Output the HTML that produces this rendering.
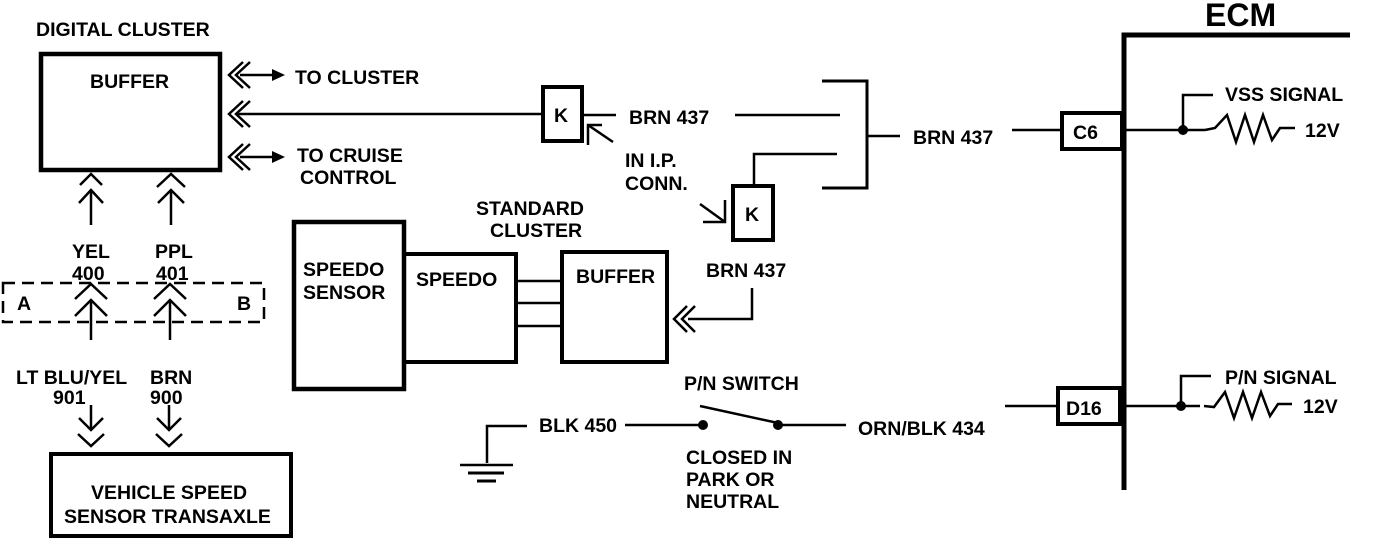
<!DOCTYPE html>
<html><head><style>
html,body{margin:0;padding:0;background:#fff;}
svg{display:block;}
text{font-family:"Liberation Sans",Arial,sans-serif;font-weight:bold;font-size:19.5px;fill:#000;}
</style></head><body>
<svg width="1376" height="544" viewBox="0 0 1376 544" xmlns="http://www.w3.org/2000/svg">
<g fill="none" stroke="#000" stroke-width="2.5">
<rect x="41" y="54" width="179" height="116" stroke-width="4.5"/>
<polyline points="243,62 229,75 243,88"/><polyline points="250,62 236,75 250,88"/>
<line x1="240" y1="75" x2="276" y2="75"/>
<polyline points="243,101 229,114 243,127"/><polyline points="250,101 236,114 250,127"/>
<line x1="238" y1="114" x2="541" y2="114"/>
<polyline points="243,144 229,157 243,170"/><polyline points="250,144 236,157 250,170"/>
<line x1="240" y1="157" x2="276" y2="157"/>
<polyline points="80,185 91,174 102,185"/>
<line x1="91" y1="190" x2="91" y2="225"/><polyline points="79,203 91,190 103,203"/>
<polyline points="157,187 171,174 185,187"/>
<line x1="171" y1="190" x2="171" y2="225"/><polyline points="158,203 171,190 184,203"/>
<rect x="3" y="283" width="261" height="39" stroke-dasharray="12,7"/>
<polyline points="75,299 91,284 107,299"/><polyline points="75,316 91,300 107,316"/>
<line x1="91" y1="300" x2="91" y2="340"/>
<polyline points="154,299 170,284 186,299"/><polyline points="154,316 170,300 186,316"/>
<line x1="170" y1="300" x2="170" y2="340"/>
<line x1="91" y1="405" x2="91" y2="430"/><polyline points="79,418 91,430 103,418"/>
<polyline points="78,434 91,446 104,434"/>
<line x1="169" y1="405" x2="169" y2="430"/><polyline points="157,418 169,430 181,418"/>
<polyline points="156,434 169,446 182,434"/>
<rect x="51" y="454" width="240" height="82" stroke-width="4"/>
<rect x="294" y="222" width="110" height="167" stroke-width="4.5"/>
<rect x="404" y="254" width="112" height="108" stroke-width="4"/>
<rect x="562" y="252" width="105" height="110" stroke-width="4"/>
<line x1="516" y1="281" x2="562" y2="281"/><line x1="516" y1="303" x2="562" y2="303"/><line x1="516" y1="326" x2="562" y2="326"/>
<polyline points="752,288 752,319 688,319"/>
<polyline points="687,306 674,319 687,332"/><polyline points="695,306 682,319 695,332"/>
<rect x="543" y="87" width="39" height="54" stroke-width="4"/>
<line x1="582" y1="115" x2="616" y2="115"/>
<polyline points="602,125 588,125 588,145"/>
<line x1="588" y1="125" x2="613" y2="142"/>
<line x1="735" y1="115" x2="840" y2="115"/>
<polyline points="822,81 867,81 867,188 822,188" stroke-width="3"/>
<line x1="867" y1="136" x2="900" y2="136"/>
<polyline points="754,185 754,154 837,154"/>
<rect x="733" y="186" width="40" height="54" stroke-width="4"/>
<line x1="700" y1="204" x2="725" y2="222"/><polyline points="703,222 725,222 725,200"/>
<polyline points="1124,490 1124,35 1350,35" stroke-width="5"/>
<line x1="1012" y1="130" x2="1062" y2="130"/>
<rect x="1062" y="113" width="60" height="36" stroke-width="4"/>
<line x1="1124" y1="130" x2="1205" y2="130"/>
<polyline points="1183,130 1183,95 1213,95"/>
<polyline points="1205,130 1215,128 1227,115 1236,142 1245,115 1254,142 1263,115 1272,140 1280,128 1295,128"/>
<line x1="1005" y1="406" x2="1058" y2="406"/>
<rect x="1058" y="388" width="62" height="36" stroke-width="4"/>
<line x1="1124" y1="406" x2="1200" y2="406"/>
<polyline points="1181,406 1181,376 1211,376"/>
<polyline points="1204,406 1214,407 1225,392 1234,418 1243,392 1252,418 1261,392 1270,416 1278,404 1292,404"/>
<polyline points="487,463 487,426 527,426"/>
<line x1="625" y1="425" x2="700" y2="425"/>
<line x1="700" y1="406" x2="778" y2="423"/>
<line x1="778" y1="425" x2="846" y2="425"/>
<line x1="460" y1="465" x2="513" y2="465"/>
<line x1="468" y1="473" x2="504" y2="473" stroke-width="3"/>
<line x1="477" y1="481" x2="496" y2="481" stroke-width="3"/>
</g>
<circle cx="1183" cy="130" r="5"/><circle cx="1181" cy="406" r="5"/>
<circle cx="703" cy="425" r="5"/><circle cx="778" cy="425" r="5"/>
<polygon points="272,69 285,75 272,81"/><polygon points="272,151 285,157 272,163"/>
<text x="36" y="36">DIGITAL CLUSTER</text>
<text x="90" y="88">BUFFER</text>
<text x="295" y="84">TO CLUSTER</text>
<text x="297" y="162">TO CRUISE</text>
<text x="300" y="184">CONTROL</text>
<text x="72" y="258">YEL</text><text x="72" y="280">400</text>
<text x="155" y="258">PPL</text><text x="156" y="280">401</text>
<text x="17" y="310">A</text><text x="237" y="310">B</text>
<text x="16" y="384">LT BLU/YEL</text><text x="53" y="404">901</text>
<text x="150" y="384">BRN</text><text x="150" y="404">900</text>
<text x="91" y="499">VEHICLE SPEED</text>
<text x="64" y="523">SENSOR TRANSAXLE</text>
<text x="303" y="276">SPEEDO</text><text x="303" y="299">SENSOR</text>
<text x="416" y="286">SPEEDO</text>
<text x="576" y="283">BUFFER</text>
<text x="476" y="215">STANDARD</text><text x="490" y="237">CLUSTER</text>
<text x="554" y="122">K</text><text x="745" y="221">K</text>
<text x="629" y="124">BRN 437</text>
<text x="625" y="167">IN I.P.</text><text x="625" y="190">CONN.</text>
<text x="706" y="277">BRN 437</text>
<text x="913" y="144">BRN 437</text>
<text x="1073" y="139">C6</text>
<text x="1066" y="415">D16</text>
<text x="1205" y="26" style="font-size:32px">ECM</text>
<text x="1225" y="101">VSS SIGNAL</text>
<text x="1305" y="137">12V</text>
<text x="1225" y="384">P/N SIGNAL</text>
<text x="1303" y="413">12V</text>
<text x="684" y="390">P/N SWITCH</text>
<text x="539" y="432">BLK 450</text>
<text x="858" y="435">ORN/BLK 434</text>
<text x="686" y="464">CLOSED IN</text>
<text x="686" y="486">PARK OR</text>
<text x="686" y="508">NEUTRAL</text>
</svg>
</body></html>
